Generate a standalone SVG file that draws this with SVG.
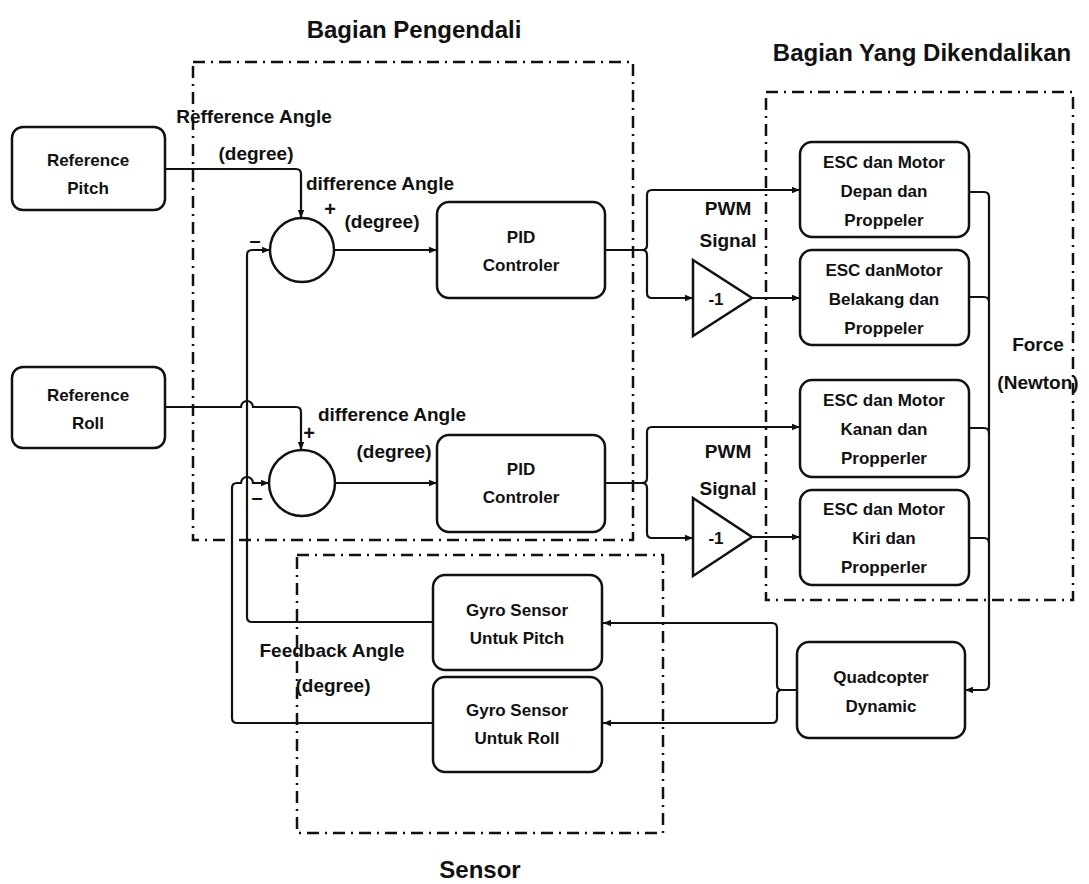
<svg xmlns="http://www.w3.org/2000/svg" width="1089" height="884" viewBox="0 0 1089 884">
  <defs>
    <marker id="arr" viewBox="0 0 10 10" refX="10" refY="5" markerWidth="8" markerHeight="8" markerUnits="userSpaceOnUse" orient="auto">
      <path d="M0,1 L10,5 L0,9 Z" fill="#111"/>
    </marker>
    <style>
      .grp { fill: none; stroke: #111; stroke-width: 2.5; stroke-dasharray: 12 6 2 6; }
      .box { fill: #fff; stroke: #111; stroke-width: 2.5; }
      .wire { fill: none; stroke: #111; stroke-width: 2.2; }
      .arw { marker-end: url(#arr); }
      .t { font-family: "Liberation Sans", Arial, sans-serif; font-weight: bold; fill: #111; text-anchor: middle; }
      .node { font-size: 17px; }
      .lbl { font-size: 19px; }
      .title { font-size: 24px; }
      .sign { font-size: 20px; }
    </style>
  </defs>
  <rect width="1089" height="884" fill="#fff"/>

  <!-- subsystem frames -->
  <g id="frames">
    <rect class="grp" x="193" y="62" width="440" height="478"/>
    <rect class="grp" x="766" y="92" width="307" height="508"/>
    <rect class="grp" x="297" y="555" width="366" height="278"/>
    <text class="t title" x="414" y="38">Bagian Pengendali</text>
    <text class="t title" x="922" y="61">Bagian Yang Dikendalikan</text>
    <text class="t title" x="480" y="878">Sensor</text>
  </g>

  <!-- signal lines -->
  <g id="connectors">
    <path class="wire arw" d="M165,169 H296 Q301,169 301,174 V218"/>
    <path class="wire arw" d="M165,407 H241 A6,6 0 0 1 253,407 H296 Q301,407 301,412 V450"/>
    <path class="wire arw" d="M334,250 H437"/>
    <path class="wire arw" d="M335,483 H437"/>
    <path class="wire arw" d="M433,622 H252 Q247,622 247,617 V255 Q247,250 252,250 H270"/>
    <path class="wire arw" d="M433,723 H237 Q232,723 232,718 V488 Q232,483 237,483 H241 A6,6 0 0 1 253,483 H269"/>
    <path class="wire arw" d="M605,250 H642 Q647,250 647,245 V195 Q647,190 652,190 H800"/>
    <path class="wire arw" d="M642,250 Q647,250 647,255 V293 Q647,298 652,298 H693"/>
    <path class="wire arw" d="M752,298 H800"/>
    <path class="wire arw" d="M605,483 H642 Q647,483 647,478 V432 Q647,427 652,427 H800"/>
    <path class="wire arw" d="M642,483 Q647,483 647,488 V533 Q647,538 652,538 H693"/>
    <path class="wire arw" d="M752,537 H800"/>
    <path class="wire arw" d="M969,192 H984 Q989,192 989,197 V685 Q989,690 984,690 H965"/>
    <path class="wire" d="M969,297 H984 Q989,297 989,302"/>
    <path class="wire" d="M969,428 H984 Q989,428 989,433"/>
    <path class="wire" d="M969,538 H984 Q989,538 989,543"/>
    <path class="wire arw" d="M797,690 H782 Q777,690 777,685 V628 Q777,623 772,623 H603"/>
    <path class="wire arw" d="M782,690 Q777,690 777,695 V718 Q777,723 772,723 H603"/>
  </g>

  <!-- signal labels -->
  <g id="labels">
    <text class="t lbl" x="254" y="123">Refference Angle</text>
    <text class="t lbl" x="256" y="160">(degree)</text>
    <text class="t lbl" x="380" y="190">difference Angle</text>
    <text class="t lbl" x="382" y="228">(degree)</text>
    <text class="t lbl" x="392" y="421">difference Angle</text>
    <text class="t lbl" x="394" y="458">(degree)</text>
    <text class="t lbl" x="728" y="215">PWM</text>
    <text class="t lbl" x="728" y="247">Signal</text>
    <text class="t lbl" x="728" y="458">PWM</text>
    <text class="t lbl" x="728" y="495">Signal</text>
    <text class="t lbl" x="1038" y="351">Force</text>
    <text class="t lbl" x="1038" y="389">(Newton)</text>
    <text class="t lbl" x="332" y="657">Feedback Angle</text>
    <text class="t lbl" x="333" y="692">(degree)</text>
    <text class="t sign" x="255" y="247">–</text>
    <text class="t sign" x="330" y="216">+</text>
    <text class="t sign" x="257" y="504">–</text>
    <text class="t sign" x="309" y="440">+</text>
  </g>

  <g id="ref-pitch">
    <rect class="box" x="12" y="127" width="153" height="83" rx="11"/>
    <text class="t node" x="88" y="166">Reference</text>
    <text class="t node" x="88" y="194">Pitch</text>
  </g>
  <g id="ref-roll">
    <rect class="box" x="12" y="367" width="153" height="81" rx="11"/>
    <text class="t node" x="88" y="401">Reference</text>
    <text class="t node" x="88" y="429">Roll</text>
  </g>

  <g id="sum-pitch">
    <circle class="box" cx="302" cy="250" r="32"/>
  </g>
  <g id="sum-roll">
    <circle class="box" cx="302" cy="483" r="33"/>
  </g>

  <g id="pid-pitch">
    <rect class="box" x="437" y="202" width="168" height="96" rx="12"/>
    <text class="t node" x="521" y="243">PID</text>
    <text class="t node" x="521" y="271">Controler</text>
  </g>
  <g id="pid-roll">
    <rect class="box" x="437" y="435" width="168" height="97" rx="12"/>
    <text class="t node" x="521" y="475">PID</text>
    <text class="t node" x="521" y="503">Controler</text>
  </g>

  <g id="inv-pitch">
    <path class="box" d="M693,260 L752,298 L693,336 Z"/>
    <text class="t node" x="716" y="305">-1</text>
  </g>
  <g id="inv-roll">
    <path class="box" d="M693,498 L752,537 L693,576 Z"/>
    <text class="t node" x="716" y="544">-1</text>
  </g>

  <g id="esc-front">
    <rect class="box" x="800" y="142" width="169" height="95" rx="12"/>
    <text class="t node" x="884" y="168">ESC dan Motor</text>
    <text class="t node" x="884" y="197">Depan dan</text>
    <text class="t node" x="884" y="226">Proppeler</text>
  </g>
  <g id="esc-back">
    <rect class="box" x="800" y="250" width="169" height="95" rx="12"/>
    <text class="t node" x="884" y="276">ESC danMotor</text>
    <text class="t node" x="884" y="305">Belakang dan</text>
    <text class="t node" x="884" y="334">Proppeler</text>
  </g>
  <g id="esc-right">
    <rect class="box" x="800" y="380" width="169" height="97" rx="12"/>
    <text class="t node" x="884" y="406">ESC dan Motor</text>
    <text class="t node" x="884" y="435">Kanan dan</text>
    <text class="t node" x="884" y="464">Propperler</text>
  </g>
  <g id="esc-left">
    <rect class="box" x="800" y="490" width="169" height="95" rx="12"/>
    <text class="t node" x="884" y="515">ESC dan Motor</text>
    <text class="t node" x="884" y="544">Kiri dan</text>
    <text class="t node" x="884" y="573">Propperler</text>
  </g>

  <g id="quad-dynamic">
    <rect class="box" x="797" y="642" width="168" height="96" rx="12"/>
    <text class="t node" x="881" y="683">Quadcopter</text>
    <text class="t node" x="881" y="712">Dynamic</text>
  </g>

  <g id="gyro-pitch">
    <rect class="box" x="433" y="575" width="169" height="95" rx="12"/>
    <text class="t node" x="517" y="616">Gyro Sensor</text>
    <text class="t node" x="517" y="644">Untuk Pitch</text>
  </g>
  <g id="gyro-roll">
    <rect class="box" x="433" y="677" width="169" height="95" rx="12"/>
    <text class="t node" x="517" y="716">Gyro Sensor</text>
    <text class="t node" x="517" y="744">Untuk Roll</text>
  </g>
</svg>
